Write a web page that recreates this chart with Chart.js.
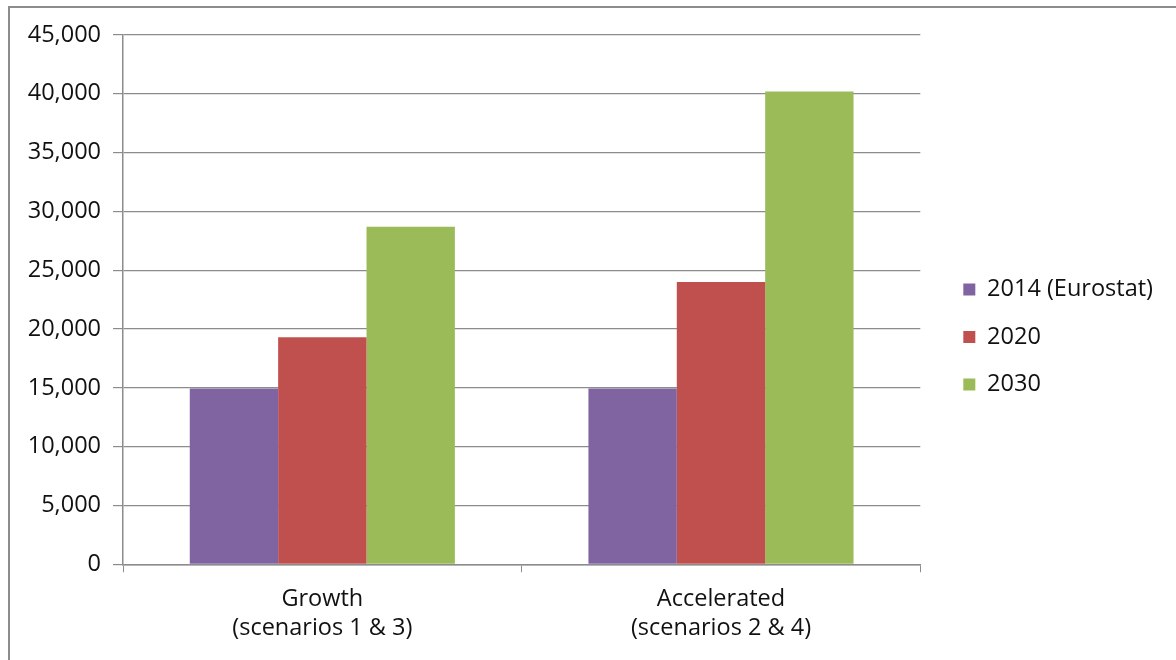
<!DOCTYPE html>
<html>
<head>
<meta charset="utf-8">
<title>Scenarios</title>
<script src="https://cdn.jsdelivr.net/npm/chart.js"></script>
<style>
  body { margin: 0; background: #fff; }
  #frame { position: absolute; left: 8px; top: 6px; width: 1300px; height: 800px; border: 2px solid #8c8c8c; }
  #wrap { position: absolute; left: 0; top: 0; width: 1176px; height: 660px; }
</style>
</head>
<body>
<div id="frame"></div>
<div id="wrap"><canvas id="scenarioChart"></canvas></div>
<script>
const categories = [['Growth', '(scenarios 1 & 3)'], ['Accelerated', '(scenarios 2 & 4)']];
const seriesNames = ['2014 (Eurostat)', '2020', '2030'];
const values2014 = [14950, 14950];
const values2020 = [19300, 24000];
const values2030 = [28700, 40200];
const yTicks = [0, 5000, 10000, 15000, 20000, 25000, 30000, 35000, 40000, 45000];

const colors = ['#8064A2', '#C0504D', '#9BBB59'];
const font = { family: 'Open Sans', size: 23.5 };

// push the legend a bit away from the plot area and up a little
const legendGap = {
    id: 'legendGap',
    afterLayout(chart) {
        chart.legend.left += 19;
        chart.legend.right += 19;
        chart.legend.top -= 8;
        chart.legend.bottom -= 8;
    }
};

const ctx = document.getElementById('scenarioChart').getContext('2d');
const chart = new Chart(ctx, {
    type: 'bar',
    data: {
        labels: categories,
        datasets: [values2014, values2020, values2030].map((d, i) => ({
            label: seriesNames[i],
            data: d,
            backgroundColor: colors[i],
            borderWidth: 0,
            categoryPercentage: 0.665,
            barPercentage: 1
        }))
    },
    options: {
        responsive: true,
        maintainAspectRatio: false,
        animation: false,
        layout: { padding: { left: 10, top: 35, right: 32, bottom: 5 } },
        plugins: {
            tooltip: { enabled: false },
            legend: {
                position: 'right',
                labels: {
                    font: font,
                    color: '#111',
                    boxWidth: 12,
                    boxHeight: 12,
                    padding: 24
                }
            }
        },
        scales: {
            x: {
                grid: { drawOnChartArea: false, drawTicks: true, tickLength: 8, color: '#8c8c8c', offset: true },
                border: { color: '#8c8c8c', width: 1.5 },
                ticks: { font: { ...font, lineHeight: 1.25 }, color: '#111', padding: 12, maxRotation: 0 }
            },
            y: {
                min: 0,
                max: 45000,
                afterBuildTicks: scale => { scale.ticks = yTicks.map(v => ({ value: v })); },
                afterFit: scale => { scale.width = 113; },
                grid: { color: '#8c8c8c', lineWidth: 1.2, tickLength: 10 },
                border: { color: '#8c8c8c', width: 1.5 },
                ticks: {
                    font: font,
                    color: '#111',
                    padding: 12,
                    callback: v => v.toLocaleString('en-US')
                }
            }
        }
    },
    plugins: [legendGap]
});
</script>
</body>
</html>
